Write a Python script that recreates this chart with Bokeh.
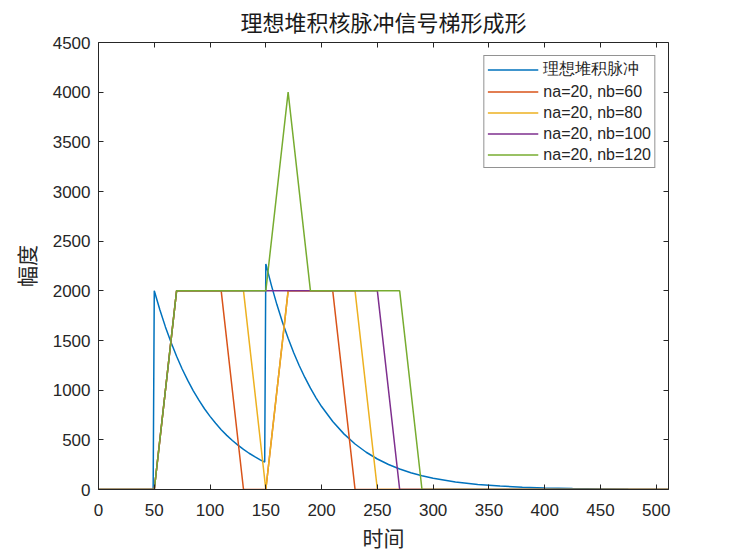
from bokeh.plotting import figure
from bokeh.models import Range1d, LinearAxis, FixedTicker, Title
from bokeh.embed import file_html
from bokeh.resources import INLINE

# ---- data ----
pulse_x = [0, 49, 50, 55, 60, 65, 70, 75, 80, 85, 90, 95, 100, 105, 110, 115, 120, 125, 130,
           135, 140, 145, 149, 150, 155, 160, 165, 170, 175, 180, 185, 190, 195, 200, 210,
           220, 230, 240, 250, 260, 270, 280, 290, 300, 320, 340, 360, 380, 400, 425, 450,
           475, 511]
pulse_y = [0, 0, 2000, 1810, 1637, 1482, 1341, 1213, 1098, 993, 899, 813, 736, 666, 602, 545,
           493, 446, 404, 365, 331, 299, 276, 2271, 2055, 1859, 1682, 1522, 1377, 1246, 1128,
           1020, 923, 835, 684, 560, 458, 375, 307, 252, 206, 169, 138, 113, 76, 51, 34, 23,
           15, 9, 6, 3, 1]

nb60_x = [0, 50, 70, 110, 130, 150, 170, 210, 230, 511]
nb60_y = [0, 0, 2000, 2000, 0, 0, 2000, 2000, 0, 0]
nb80_x = [0, 50, 70, 130, 150, 170, 230, 250, 511]
nb80_y = [0, 0, 2000, 2000, 0, 2000, 2000, 0, 0]
nb100_x = [0, 50, 70, 250, 270, 511]
nb100_y = [0, 0, 2000, 2000, 0, 0]
nb120_x = [0, 50, 70, 150, 170, 190, 270, 290, 511]
nb120_y = [0, 0, 2000, 2000, 4000, 2000, 2000, 0, 0]

series_labels = ["理想堆积脉冲", "na=20, nb=60", "na=20, nb=80", "na=20, nb=100", "na=20, nb=120"]
series_colors = ["#0072BD", "#D95319", "#EDB120", "#7E2F8E", "#77AC30"]

x_ticks = [0, 50, 100, 150, 200, 250, 300, 350, 400, 450, 500]
y_ticks = [0, 500, 1000, 1500, 2000, 2500, 3000, 3500, 4000, 4500]

title_text = "理想堆积核脉冲信号梯形成形"
x_label = "时间"
y_label = "幅度"

AX = "#262626"
SANS = "Liberation Sans"
CJK = "Noto Sans CJK SC"
TITLE_FONT = "'Liberation Sans', 'Noto Sans CJK SC'"

p = figure(width=722, height=552, x_range=Range1d(0, 511), y_range=Range1d(0, 4500),
           output_backend="svg", toolbar_location=None,
           min_border_left=97, min_border_right=54, min_border_top=42, min_border_bottom=55)
p.background_fill_color = "white"
p.border_fill_color = "white"
p.outline_line_color = None
p.xgrid.grid_line_color = None
p.ygrid.grid_line_color = None

def style_axis(ax, ticks, show_labels):
    ax.ticker = FixedTicker(ticks=ticks)
    ax.major_tick_in = 5
    ax.major_tick_out = 0
    ax.minor_tick_line_color = None
    ax.axis_line_color = AX
    ax.major_tick_line_color = AX
    ax.axis_line_width = 1
    ax.major_label_text_font = SANS
    ax.major_label_text_font_size = "17px"
    ax.major_label_text_color = AX if show_labels else None
    if not show_labels:
        ax.major_label_text_font_size = "0px"
        ax.major_label_standoff = 0

style_axis(p.xaxis[0], x_ticks, True)
style_axis(p.yaxis[0], y_ticks, True)
p.xaxis[0].major_label_standoff = 14
p.yaxis[0].major_label_standoff = 8

top = LinearAxis()
style_axis(top, x_ticks, False)
p.add_layout(top, "above")
right = LinearAxis()
style_axis(right, y_ticks, False)
p.add_layout(right, "right")

xs = [pulse_x, nb60_x, nb80_x, nb100_x, nb120_x]
ys = [pulse_y, nb60_y, nb80_y, nb100_y, nb120_y]
for x, y, c, lab in zip(xs, ys, series_colors, series_labels):
    p.line(x, y, line_color=c, line_width=1.5, legend_label=lab)

lg = p.legend[0]
lg.location = "top_right"
lg.margin = 13
lg.border_line_color = AX
lg.border_line_width = 1
lg.background_fill_color = "white"
lg.background_fill_alpha = 1
lg.glyph_width = 51
lg.glyph_height = 19
lg.label_height = 19
lg.label_standoff = 5
lg.padding = 3
lg.spacing = 2
lg.label_text_font = SANS
lg.label_text_font_size = "16px"
lg.label_text_color = AX

p.add_layout(Title(text=title_text, align="center", text_font=TITLE_FONT, text_font_size="22px",
                   text_font_style="normal", text_color="#1a1a1a", standoff=14), "above")
p.add_layout(Title(text=x_label, align="center", text_font=CJK, text_font_size="21px",
                   text_font_style="normal", text_color=AX, standoff=2), "below")
p.add_layout(Title(text=y_label, align="center", text_font=CJK, text_font_size="21px",
                   text_font_style="normal", text_color=AX, standoff=17), "left")

open("out.html", "w").write(file_html(p, INLINE))
